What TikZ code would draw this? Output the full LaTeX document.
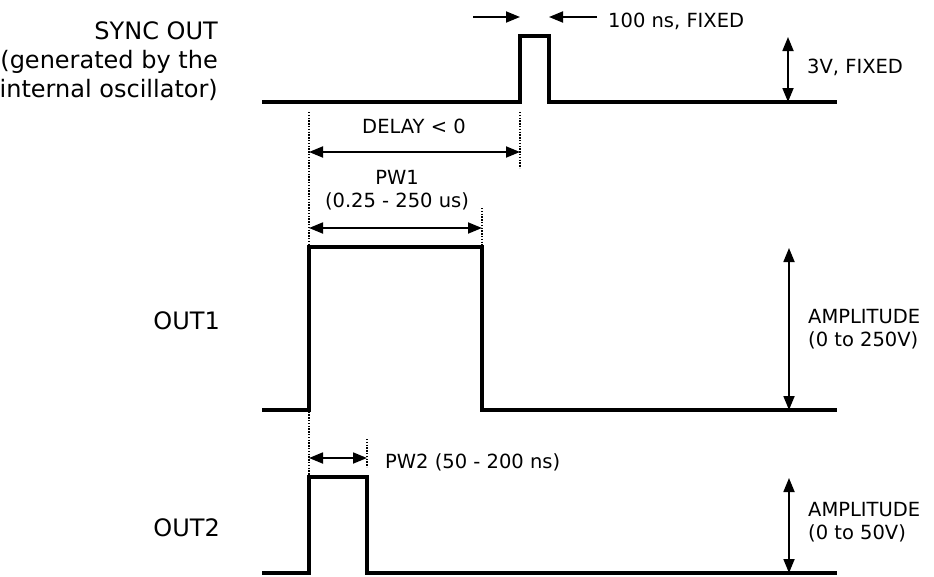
\documentclass[tikz,border=0pt]{standalone}
\usepackage{fontspec}
\setmainfont{DejaVu Sans}
\usetikzlibrary{arrows.meta,positioning}
\tikzset{
  sig/.style={line width=3.6pt, line join=miter},
  dimarr/.style={{Triangle[length=14pt,width=11pt]}-{Triangle[length=14pt,width=11pt]}, line width=1.8pt},
  onearr/.style={-{Triangle[length=14pt,width=11pt]}, line width=1.8pt},
  guide/.style={dash pattern=on 1.4pt off 1.4pt, line width=1.4pt},
  chan/.style={font=\fontsize{24}{29}\selectfont, align=right, inner sep=0pt, anchor=base east},
  note/.style={font=\fontsize{19.5}{23}\selectfont, align=left, inner sep=0pt, anchor=base west},
}
% one waveform: low y, high y, rise x, fall x, name
\newcommand{\wave}[5]{%
  \coordinate (#5-a) at (262,#1);
  \coordinate (#5-r) at (#3,#1);
  \coordinate (#5-f) at (#4,#2);
  \coordinate (#5-b) at (837,#1);
  \draw[sig] (#5-a) -- (#5-r) |- (#5-f) |- (#5-b);}

\begin{document}
\begin{tikzpicture}[x=1pt,y=-1pt]
  \useasboundingbox (0,0) rectangle (934,576);
  % waveforms
  \wave{102}{36}{520}{549}{sync}
  \wave{410}{247}{309}{482}{outa}
  \wave{573}{477}{309}{367}{outb}
  % channel labels (base = last line)
  \node[chan] (lsync) at (218,97) {SYNC OUT\\(generated by the\\internal oscillator)};
  \node[chan] (louta) at (220,329) {OUT1};
  \node[chan] (loutb) at (220,536) {OUT2};
  % guides
  \coordinate (g0) at (309,112);
  \coordinate (g1) at (520,112);
  \coordinate (g2) at (482,208);
  \coordinate (g3) at (367,439);
  \draw[guide] (g0) -- (g0 |- outb-f);
  \draw[guide] (g1) -- (520,168);
  \draw[guide] (g2) -- (g2 |- outa-f);
  \draw[guide] (g3) -- (367,467);
  % widths
  \coordinate (d0) at (309,152);
  \coordinate (p0) at (309,228);
  \coordinate (q0) at (309,458);
  \draw[dimarr] (d0) -- (d0 -| g1);
  \draw[dimarr] (p0) -- (p0 -| g2);
  \draw[dimarr] (q0) -- (q0 -| g3);
  \node[font=\fontsize{19.5}{23}\selectfont, inner sep=0pt, anchor=base] (tdelay) at (414,133) {DELAY < 0};
  \node[font=\fontsize{19.5}{23}\selectfont, inner sep=0pt, anchor=base, align=center] (tpwa) at (397,207) {PW1\\(0.25 - 250 us)};
  \node[note] (tpwb) at (385,468) {PW2 (50 - 200 ns)};
  % sync pulse width
  \coordinate (s0) at (473,17);
  \coordinate (s1) at (597,17);
  \draw[onearr] (s0) -- (s0 -| sync-r);
  \draw[onearr] (s1) -- (s1 -| sync-f);
  \node[note] (tfix) at (608,27) {100 ns, FIXED};
  % amplitudes
  \coordinate (v0) at (788,37);
  \coordinate (v1) at (789,248);
  \coordinate (v2) at (789,478);
  \draw[dimarr] (v0) -- (v0 |- sync-b);
  \draw[dimarr] (v1) -- (v1 |- outa-b);
  \draw[dimarr] (v2) -- (v2 |- outb-b);
  \node[note] (tsync) at (807,73) {3V, FIXED};
  \node[note] (tampa) at (808,346) {AMPLITUDE\\(0 to 250V)};
  \node[note] (tampb) at (808,539) {AMPLITUDE\\(0 to 50V)};
\end{tikzpicture}
\end{document}
